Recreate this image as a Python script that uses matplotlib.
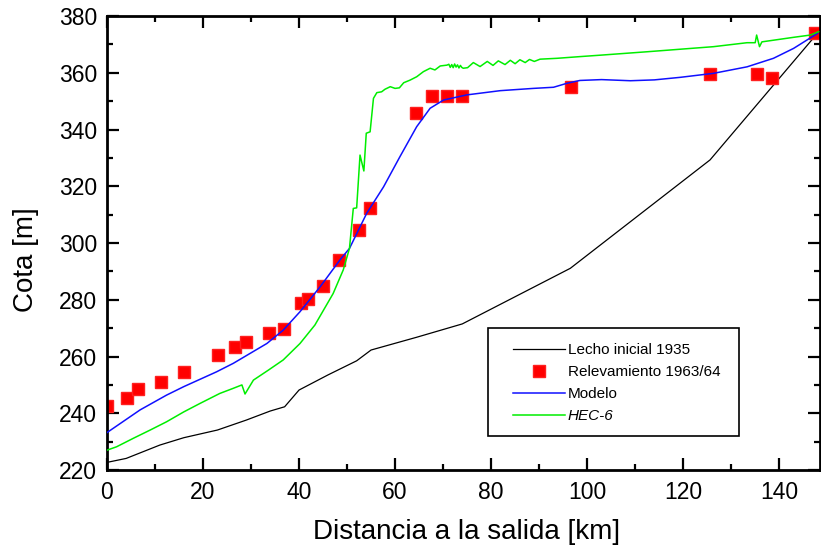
import matplotlib
matplotlib.use("Agg")
import matplotlib.pyplot as plt
from matplotlib.patches import Rectangle
from matplotlib.ticker import MultipleLocator

plt.rcParams['font.family'] = ['Liberation Sans', 'DejaVu Sans']

# Initial bed profile (1935)
lecho_x = [0, 4, 11, 16, 23, 29, 34, 37, 40, 46, 52, 55, 64.5, 74, 96.5, 125.6, 148]
lecho_y = [222.7, 224.1, 228.8, 231.4, 234.1, 237.6, 240.8, 242.3, 248.2, 253.5,
           258.5, 262.3, 266.8, 271.5, 291.1, 329.3, 374.0]

# Surveyed bed levels 1963/64
relev_x = [0, 4.1, 6.4, 11.2, 16, 23.2, 26.7, 29, 33.8, 36.9, 40.5, 41.8, 45, 48.3,
           52.4, 54.7, 64.3, 67.6, 70.8, 74, 96.6, 125.6, 135.3, 138.5, 147.5]
relev_y = [242.5, 245.3, 248.4, 251.1, 254.4, 260.5, 263.5, 265.1, 268.2, 269.6,
           278.9, 280.4, 285.0, 294.0, 304.6, 312.2, 345.9, 351.9, 351.9, 351.9,
           354.9, 359.4, 359.4, 358.0, 373.9]

# Model result
modelo_x = [0, 6.9, 12.4, 16, 22.8, 26.3, 29.8, 33.3, 36.7, 40.2, 44.4, 48.5, 50.5,
            54.1, 57.6, 61, 64.5, 67.3, 70.1, 74.9, 81.9, 88.8, 93, 95.8, 98.5, 103,
            109, 114, 119.4, 126.3, 133.3, 138.8, 143, 148]
modelo_y = [233.2, 241.2, 246.4, 249.4, 254.6, 257.6, 261.1, 264.6, 269.3, 275.8,
            284.6, 294.0, 298.1, 310.5, 319.8, 330.4, 341.0, 347.5, 350.4, 352.2,
            353.7, 354.5, 354.9, 356.3, 357.3, 357.6, 357.2, 357.5, 358.4, 359.8,
            362.1, 365.1, 368.6, 373.9]

# HEC-6 result
hec_x = [0, 2, 5.5, 9, 12.4, 16, 19.4, 23.5, 26.3, 28.1, 28.75, 30.5, 33.6, 36.7,
         40.2, 43.3, 47.1, 49.2, 50.5, 51.3, 52.0, 52.7, 53.5, 54.0, 54.8, 55.5,
         56.2, 57.2, 57.9, 59, 60, 60.9, 61.8, 63.1, 64.5, 65.9, 67.3, 68.3, 69.4,
         70.8, 71.2, 71.5, 71.8, 72.1, 72.4, 72.7, 73.0, 73.3, 73.6, 73.9, 74.2,
         75.1, 76.3, 77.7, 79.2, 80.4, 81.5, 82.9, 84, 85, 86, 87.1, 88, 89, 90.2,
         93.7, 98.5, 102.7, 112.4, 126.3, 133.3, 135.0, 135.3, 135.9, 136.4, 143,
         146.5, 148.2]
hec_y = [227.0, 228.2, 231.2, 234.1, 237.0, 240.5, 243.5, 247.0, 248.8, 250.0,
         246.8, 251.7, 255.2, 258.8, 264.6, 271.1, 282.2, 290.5, 298.1, 312.2,
         312.4, 331.0, 325.4, 338.7, 339.2, 351.0, 353.0, 353.3, 354.2, 355.1,
         354.5, 354.7, 356.5, 357.4, 358.6, 360.4, 361.6, 361.0, 362.4, 362.7,
         363.0, 361.9, 362.9, 361.8, 363.1, 362.0, 362.8, 361.7, 362.6, 361.9,
         361.6, 361.8, 363.6, 362.2, 364.0, 362.6, 364.2, 362.9, 364.4, 363.2,
         364.6, 363.6, 364.7, 364.0, 364.8, 365.1, 365.7, 366.2, 367.4, 369.2,
         370.6, 370.6, 373.3, 369.2, 370.9, 372.5, 373.3, 374.5]

fig = plt.figure(figsize=(8.21, 5.53), dpi=100)
ax = fig.add_axes([0.1303, 0.150, 0.8685, 0.821])

ax.plot(lecho_x, lecho_y, color='black', lw=0.9, label='Lecho inicial 1935')
ax.plot(relev_x, relev_y, linestyle='none', marker='s', ms=9.2, color='#ff0000',
        mec='#ff2020', label='Relevamiento 1963/64', zorder=2)
ax.plot(modelo_x, modelo_y, color='#1010ff', lw=1.1, label='Modelo', zorder=3)
ax.plot(hec_x, hec_y, color='#00ee00', lw=1.1, label='HEC-6', zorder=3)

ax.set_xlim(0, 148.5)
ax.set_ylim(220, 380)
ax.xaxis.set_major_locator(MultipleLocator(20))
ax.xaxis.set_minor_locator(MultipleLocator(10))
ax.yaxis.set_major_locator(MultipleLocator(20))
ax.yaxis.set_minor_locator(MultipleLocator(10))

for s in ax.spines.values():
    s.set_linewidth(2.0)
ax.tick_params(which='both', direction='in', top=True, right=True, width=1.6)
ax.tick_params(which='major', length=8.5, labelsize=16.5)
ax.tick_params(which='minor', length=4.5)
ax.tick_params(axis='y', pad=7)
ax.tick_params(axis='x', pad=8)

ax.set_xlabel('Distancia a la salida [km]', fontsize=20)
ax.set_ylabel('Cota [m]', fontsize=20)
ax.xaxis.set_label_coords(0.504, -0.108)
ax.yaxis.set_label_coords(-0.096, 0.463)

# Legend box drawn separately so the padding can differ horizontally/vertically
ax.add_patch(Rectangle((0.5344, 0.0749), 0.352, 0.2379, transform=ax.transAxes,
                       facecolor='white', edgecolor='black', lw=1.2, zorder=4))
leg = ax.legend(loc='upper left', bbox_to_anchor=(0.569, 0.279), borderaxespad=0,
                frameon=False, prop={'size': 11},
                handlelength=3.4, handletextpad=0.2, labelspacing=0.52,
                borderpad=0, markerscale=1.0)
leg.set_zorder(5)
leg.get_texts()[3].set_fontstyle('italic')

fig.savefig('out.png', dpi=100)
